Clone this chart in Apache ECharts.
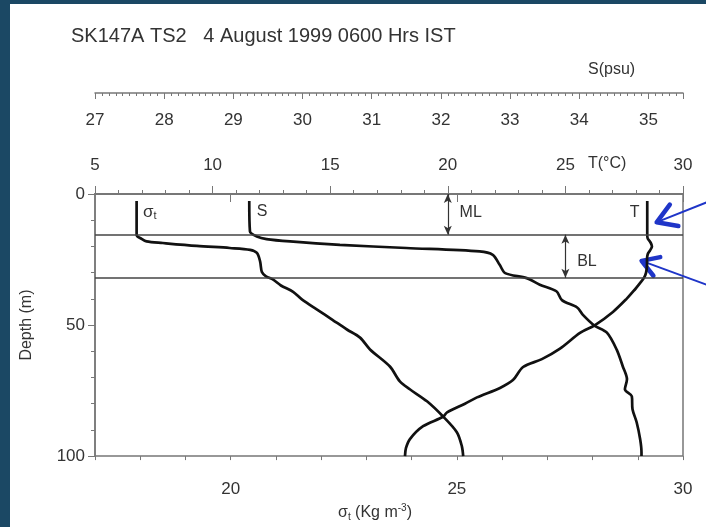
<!DOCTYPE html>
<html>
<head>
<meta charset="utf-8">
<script src="https://cdn.jsdelivr.net/npm/echarts@6/dist/echarts.min.js"></script>
<style>
  html, body { margin: 0; padding: 0; background: #1b4864; }
  #chart { position: absolute; left: 10px; top: 4px; width: 696px; height: 523px; background: #fff; }
</style>
</head>
<body>
<div id="chart"></div>
<script type="text/javascript">
// profiles: depth (m) and value
var sigmaDepth = [2.7, 15.6, 17.1, 18.1, 18.7, 19.8, 20.6, 21.3, 22.5, 25.7, 29.8, 31.4, 32.7, 34.9, 37.3, 40.3, 44.1, 48, 51.7, 54.8, 59.3, 65.8, 71.5, 74.5, 79.1, 84.8, 90.9, 96.2, 100];
var sigmaVal   = [17.92, 17.92, 18.03, 18.14, 18.5, 19.25, 19.98, 20.43, 20.58, 20.65, 20.69, 20.78, 20.94, 21.11, 21.38, 21.58, 21.91, 22.25, 22.57, 22.86, 23.08, 23.52, 23.74, 23.96, 24.34, 24.69, 25.0, 25.11, 25.14];

var salDepth = [2.7, 14.3, 16.2, 17.2, 18.1, 19.4, 20.6, 21.9, 23.2, 27, 30.2, 32.1, 34.6, 37.1, 40.5, 43.3, 46, 50.2, 52.9, 59.3, 65.8, 70.7, 74.5, 77.2, 82.1, 87.1, 93.5, 98.5, 100];
var salVal   = [29.23, 29.24, 29.34, 29.48, 29.82, 30.54, 31.5, 32.56, 32.75, 32.85, 32.93, 33.24, 33.43, 33.67, 33.75, 33.97, 34.05, 34.22, 34.4, 34.54, 34.63, 34.69, 34.66, 34.76, 34.77, 34.83, 34.88, 34.9, 34.9];

var tempDepth = [2.7, 15.5, 17, 18.5, 20, 21.5, 23, 25, 27, 30, 32, 34, 37, 40, 45, 50, 53, 59, 63, 66, 71, 74, 77.6, 80, 83.3, 85, 88.6, 93.5, 97, 100];
var tempVal   = [28.48, 28.48, 28.5, 28.62, 28.68, 28.6, 28.5, 28.47, 28.47, 28.43, 28.34, 28.17, 27.9, 27.6, 27.02, 26.26, 25.62, 24.77, 24.0, 23.2, 22.77, 22.22, 21.24, 20.73, 19.97, 19.8, 18.95, 18.39, 18.22, 18.18];

// layer boundaries (ML bottom, BL bottom)
var layerDepths = [15.5, 32];

// tick values for the sigma-t axis
var sigmaLabels = [20, 25, 30];
var sigmaMinor = [17, 18, 19, 20, 21, 22, 23, 24, 25, 26, 27, 28, 29, 30];

var FONT = 'Liberation Sans, Arial, sans-serif';
var TXT = '#333';
var AX = '#777';
var BLUE = '#1f35c8';

function pairs(v, d) {
  return v.map(function (x, i) { return [x, d[i]]; });
}

var chart = echarts.init(document.getElementById('chart'));

function tag(coord, text, pos) {
  return {
    coord: coord, symbol: 'circle', symbolSize: 0,
    label: { show: true, position: pos, distance: 0, formatter: text, color: TXT, fontFamily: FONT, fontSize: 16,
      rich: { s: { fontSize: 17, color: TXT, fontFamily: FONT }, b: { fontSize: 11, color: TXT, fontFamily: FONT, padding: [9, 0, 0, 0] } } }
  };
}

var option = {
  animation: false,
  title: {
    text: 'SK147A TS2   4 August 1999 0600 Hrs IST',
    left: 56, top: 17,
    textStyle: { fontFamily: FONT, fontSize: 20, fontWeight: 'normal', color: TXT }
  },
  grid: { left: 85, right: 23, top: 190, bottom: 70, show: true, borderColor: AX, borderWidth: 1.5, backgroundColor: 'transparent' },
  xAxis: [
    { // sigma-t, bottom
      type: 'value', position: 'bottom', min: 17, max: 30,
      axisLine: { lineStyle: { color: AX, width: 1.5 } },
      axisTick: { customValues: sigmaLabels, length: 8, lineStyle: { color: AX } },
      axisLabel: { customValues: sigmaLabels, margin: 25, color: TXT, fontFamily: FONT, fontSize: 17 },
      splitLine: { show: false },
      name: '{s|σ}{b|t}{n| (Kg m}{p|-3}{n|)}', nameLocation: 'middle', nameGap: 44,
      nameTextStyle: { color: TXT, fontFamily: FONT, padding: [0, 28, 0, 0],
        rich: { s: { fontSize: 16, color: TXT }, b: { fontSize: 10, color: TXT, padding: [9, 0, 0, 0] },
                n: { fontSize: 16, color: TXT }, p: { fontSize: 10, color: TXT, padding: [0, 0, 9, 0] } } }
    },
    { // temperature, top of plot
      type: 'value', position: 'top', min: 5, max: 30, interval: 5,
      axisLine: { lineStyle: { color: AX, width: 1.5 } },
      axisTick: { length: 8, lineStyle: { color: AX } },
      minorTick: { show: true, splitNumber: 5, length: 4, lineStyle: { color: AX } },
      axisLabel: { margin: 20, color: TXT, fontFamily: FONT, fontSize: 17 },
      splitLine: { show: false }
    },
    { // salinity, separate axis above
      type: 'value', position: 'top', offset: 101, min: 27, max: 35.5, interval: 1,
      axisLine: { lineStyle: { color: AX, width: 1.5 } },
      axisTick: { inside: true, length: 6, lineStyle: { color: AX } },
      minorTick: { show: true, splitNumber: 10, length: 3, lineStyle: { color: AX } },
      axisLabel: { inside: true, margin: 19, showMaxLabel: false, color: TXT, fontFamily: FONT, fontSize: 17 },
      splitLine: { show: false }
    },
    { // sigma-t minor ticks
      type: 'value', position: 'bottom', min: 17, max: 30,
      axisLine: { show: false },
      axisTick: { customValues: sigmaMinor, length: 4, lineStyle: { color: AX } },
      axisLabel: { show: false },
      splitLine: { show: false }
    }
  ],
  yAxis: {
    type: 'value', inverse: true, min: 0, max: 100, interval: 50,
    axisLine: { show: true, lineStyle: { color: AX, width: 1.5 } },
    axisTick: { show: true, length: 7, lineStyle: { color: AX } },
    minorTick: { show: true, splitNumber: 5, length: 4, lineStyle: { color: AX } },
    axisLabel: { margin: 10, color: TXT, fontFamily: FONT, fontSize: 17 },
    splitLine: { show: false },
    name: 'Depth (m)', nameLocation: 'middle', nameGap: 60,
    nameTextStyle: { color: TXT, fontFamily: FONT, fontSize: 16 }
  },
  series: [
    {
      name: 'sigma', type: 'line', xAxisIndex: 0, showSymbol: false, smooth: 0.3,
      lineStyle: { color: '#111', width: 2.7 },
      data: pairs(sigmaVal, sigmaDepth),
      markLine: {
        silent: true, symbol: 'none', label: { show: false },
        lineStyle: { color: '#444', width: 1.5, type: 'solid' },
        data: layerDepths.map(function (d) { return { yAxis: d }; })
      },
      markPoint: { data: [tag([18.06, 6.8], '{s|σ}{b|t}', 'right')] }
    },
    {
      name: 'S', type: 'line', xAxisIndex: 2, showSymbol: false, smooth: 0.3,
      lineStyle: { color: '#111', width: 2.7 },
      data: pairs(salVal, salDepth),
      markPoint: { data: [tag([29.34, 6.8], 'S', 'right')] }
    },
    {
      name: 'T', type: 'line', xAxisIndex: 1, showSymbol: false, smooth: 0.3,
      lineStyle: { color: '#111', width: 2.7 },
      data: pairs(tempVal, tempDepth),
      markLine: {
        silent: true, symbol: ['arrow', 'arrow'], symbolSize: [6, 9], label: { show: false },
        lineStyle: { color: '#333', width: 1.2, type: 'solid' },
        data: [
          [{ coord: [20, 0] }, { coord: [20, layerDepths[0]] }],
          [{ coord: [25, layerDepths[0]] }, { coord: [25, layerDepths[1]] }]
        ]
      },
      markPoint: { data: [
        tag([20.5, 7.2], 'ML', 'right'),
        tag([25.5, 25.9], 'BL', 'right'),
        tag([28.15, 7.2], 'T', 'left')
      ] }
    }
  ],
  graphic: [
    { type: 'text', left: 578, top: 58, style: { text: 'S(psu)', fill: TXT, font: '16px ' + FONT } },
    { type: 'text', left: 578, top: 152, style: { text: 'T(°C)', fill: TXT, font: '16px ' + FONT } }
  ]
};
chart.setOption(option);

// blue pointer arrows onto the T profile
function arrowParts(tip, tail, hl, ang) {
  var dx = tail[0] - tip[0], dy = tail[1] - tip[1];
  var len = Math.sqrt(dx * dx + dy * dy);
  var ux = dx / len, uy = dy / len;
  function arm(a) {
    return [tip[0] + hl * (ux * Math.cos(a) - uy * Math.sin(a)), tip[1] + hl * (ux * Math.sin(a) + uy * Math.cos(a))];
  }
  return [
    { type: 'line', shape: { x1: tip[0] + ux * 3, y1: tip[1] + uy * 3, x2: tail[0], y2: tail[1] }, style: { stroke: BLUE, lineWidth: 2 } },
    { type: 'polyline', shape: { points: [arm(ang), tip, arm(-ang)] }, style: { stroke: BLUE, lineWidth: 4.5, fill: null, lineCap: 'round', lineJoin: 'round' } }
  ];
}
var tip1 = chart.convertToPixel({ xAxisIndex: 1, yAxisIndex: 0 }, [28.88, 10.8]);
var tip2 = chart.convertToPixel({ xAxisIndex: 1, yAxisIndex: 0 }, [28.24, 25.5]);
var arrows = arrowParts(tip1, [700, 197], 22, 0.55).concat(arrowParts(tip2, [700, 282], 19, 0.55));
chart.setOption({ graphic: option.graphic.concat(arrows) });
</script>
</body>
</html>
